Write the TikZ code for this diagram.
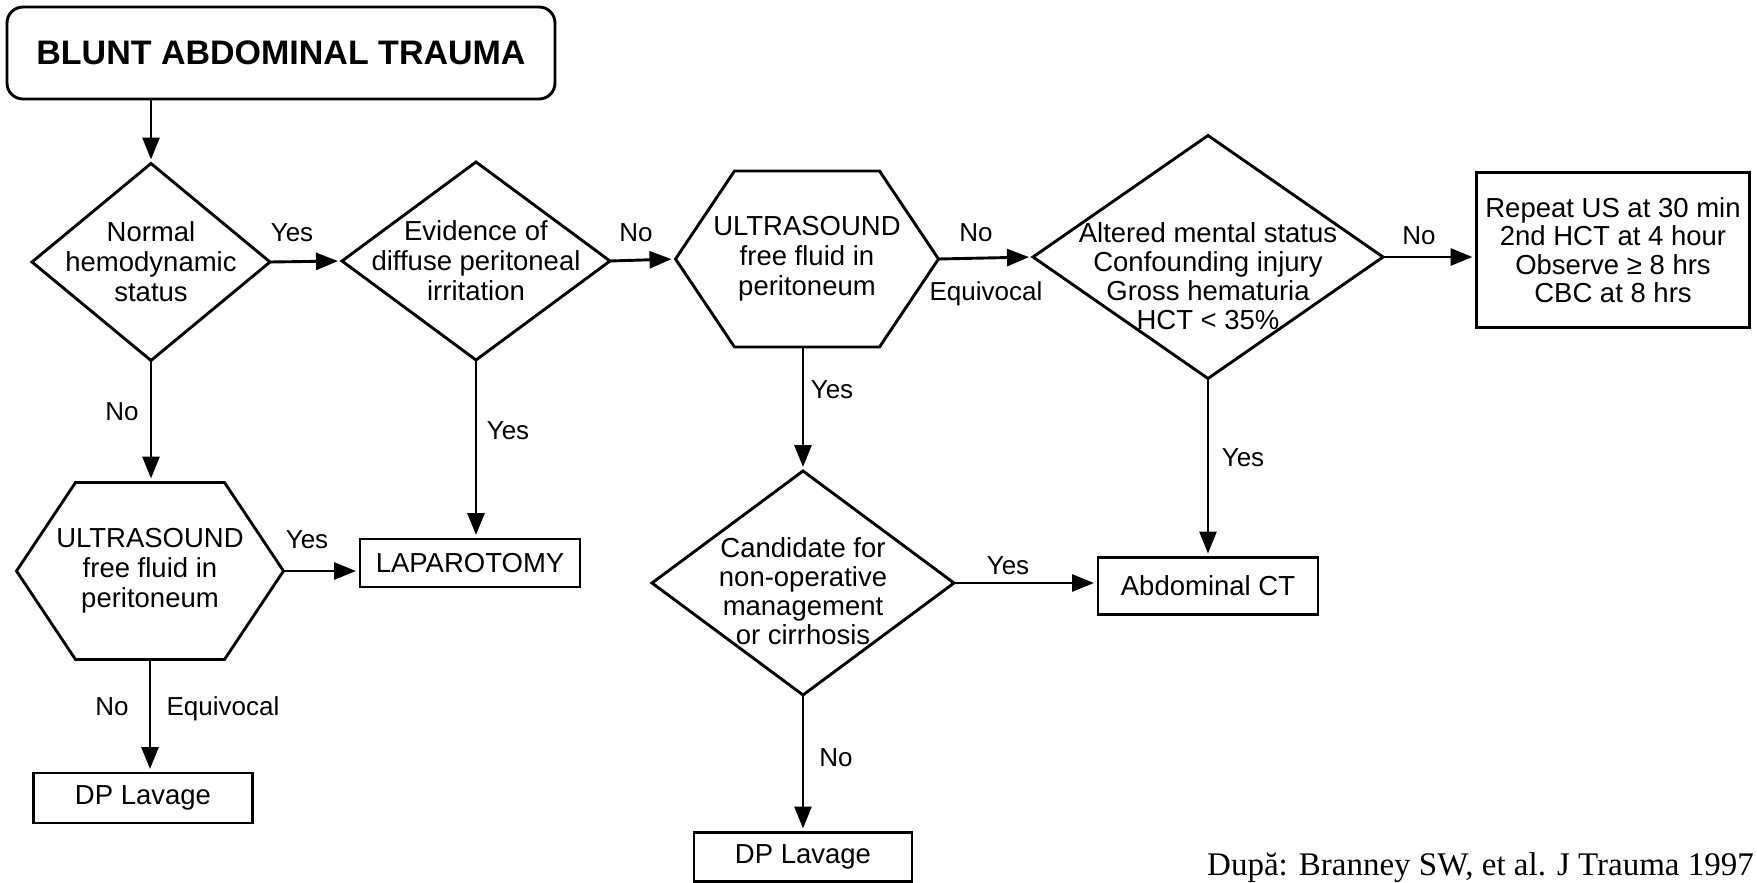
\documentclass[tikz,border=0pt]{standalone}
\usepackage{fontspec}
\setmainfont{Liberation Sans}
\newfontfamily\citefont{Liberation Serif}
\usetikzlibrary{arrows.meta}
\begin{document}
\begin{tikzpicture}[x=1pt,y=-1pt,
  shp/.style={draw, line width=2.9pt, line join=miter},
  box/.style={draw, line width=2.9pt, rectangle, inner sep=0pt, outer sep=0pt, align=center, font=\fontsize{27.5}{29}\selectfont},
  bbox/.style={rectangle, inner sep=0pt, outer sep=0pt, draw=none, align=center, font=\fontsize{27.5}{30}\selectfont},
  txt/.style={inner sep=0pt, align=center, font=\fontsize{27.5}{29}\selectfont},
  lbl/.style={inner sep=0pt, font=\fontsize{26}{28}\selectfont},
  arr/.style={line width=2.9pt, -{Triangle[length=22pt,width=17pt]}, shorten >=4pt},
]
\fill[white] (0,0) rectangle (1757,883);
\useasboundingbox (0,0) rectangle (1757,883);

% nodes
\node[box, rounded corners=16pt, minimum width=548pt, minimum height=92pt,
      font=\fontsize{34}{36}\selectfont\bfseries] (title) at (281,53) {BLUNT ABDOMINAL TRAUMA};
\node[bbox, minimum width=238pt, minimum height=197pt] (d1) at (151,262) {Normal\\hemodynamic\\status};
\node[bbox, minimum width=268pt, minimum height=198pt] (d2) at (476,261) {Evidence of\\diffuse peritoneal\\irritation};
\node[bbox, minimum width=263pt, minimum height=176pt] (h1) at (807,259) {ULTRASOUND\\free fluid in\\peritoneum};
\node[bbox, minimum width=350pt, minimum height=243pt] (d3) at (1208,257) {};
\node[txt] (d3t) at (1208,276) {Altered mental status\\Confounding injury\\Gross hematuria\\HCT < 35\%};
\node[box, minimum width=273pt, minimum height=155pt, font=\fontsize{27.5}{28.5}\selectfont] (rep) at (1613,250)
     {Repeat US at 30 min\\2nd HCT at 4 hour\\Observe ≥ 8 hrs\\CBC at 8 hrs};
\node[bbox, minimum width=267pt, minimum height=177pt] (h2) at (150,571) {ULTRASOUND\\free fluid in\\peritoneum};
\node[box, minimum width=220pt, minimum height=48pt] (lap) at (470,563) {LAPAROTOMY};
\node[box, minimum width=219pt, minimum height=50pt] (dpl1) at (143,798) {DP Lavage};
\node[bbox, minimum width=302pt, minimum height=224pt] (d4) at (803,583) {};
\node[txt] (d4t) at (803,591) {Candidate for\\non-operative\\management\\or cirrhosis};
\node[box, minimum width=220pt, minimum height=57pt] (ct) at (1208,586) {Abdominal CT};
\node[box, minimum width=218pt, minimum height=49pt] (dpl2) at (803,857) {DP Lavage};

% outlines
\draw[shp] (d1.north) -- (d1.east) -- (d1.south) -- (d1.west) -- cycle;
\draw[shp] (d2.north) -- (d2.east) -- (d2.south) -- (d2.west) -- cycle;
\draw[shp] (d3.north) -- (d3.east) -- (d3.south) -- (d3.west) -- cycle;
\draw[shp] (d4.north) -- (d4.east) -- (d4.south) -- (d4.west) -- cycle;
\draw[shp] ([xshift=59pt]h1.north west) -- ([xshift=-59pt]h1.north east) -- (h1.east)
  -- ([xshift=-59pt]h1.south east) -- ([xshift=59pt]h1.south west) -- (h1.west) -- cycle;
\draw[shp] ([xshift=59pt]h2.north west) -- ([xshift=-59pt]h2.north east) -- (h2.east)
  -- ([xshift=-59pt]h2.south east) -- ([xshift=59pt]h2.south west) -- (h2.west) -- cycle;

% connectors
\draw[arr] (title.south -| d1.north) -- (d1.north);
\draw[arr] (d1.east) -- (d2.west);
\draw[arr] (d1.south) -- (d1.south |- h2.north);
\draw[arr] (d2.east) -- (h1.west);
\draw[arr] (d2.south) -- (d2.south |- lap.north);
\draw[arr] (h1.east) -- (d3.west);
\draw[arr] (d3.east) -- (d3.east -| rep.west);
\draw[arr] (h1.south -| d4.north) -- (d4.north);
\draw[arr] (d3.south) -- (ct.north);
\draw[arr] (d4.east) -- (d4.east -| ct.west);
\draw[arr] (d4.south) -- (dpl2.north);
\draw[arr] (h2.east) -- (h2.east -| lap.west);
\draw[arr] (h2.south) -- (h2.south |- dpl1.north);

% labels
\node[lbl] (l1) at (292,233) {Yes};
\node[lbl] (l2) at (122,412) {No};
\node[lbl] (l3) at (636,233) {No};
\node[lbl] (l4) at (508,431) {Yes};
\node[lbl] (l5) at (976,233) {No};
\node[lbl] (l6) at (986,294) {Equivocal};
\node[lbl] (l7) at (832,390) {Yes};
\node[lbl] (l8) at (1419,236) {No};
\node[lbl] (l9) at (1243,458) {Yes};
\node[lbl] (l10) at (307,540) {Yes};
\node[lbl] (l11) at (112,707) {No};
\node[lbl] (l12) at (223,709) {Equivocal};
\node[lbl] (l13) at (1008,566) {Yes};
\node[lbl] (l14) at (836,758) {No};

\node[inner sep=0pt, anchor=base east, font=\citefont\fontsize{33}{36}\selectfont] (cite) at (1754,875)
  {După: Branney SW, et al. J Trauma 1997};
\end{tikzpicture}
\end{document}
